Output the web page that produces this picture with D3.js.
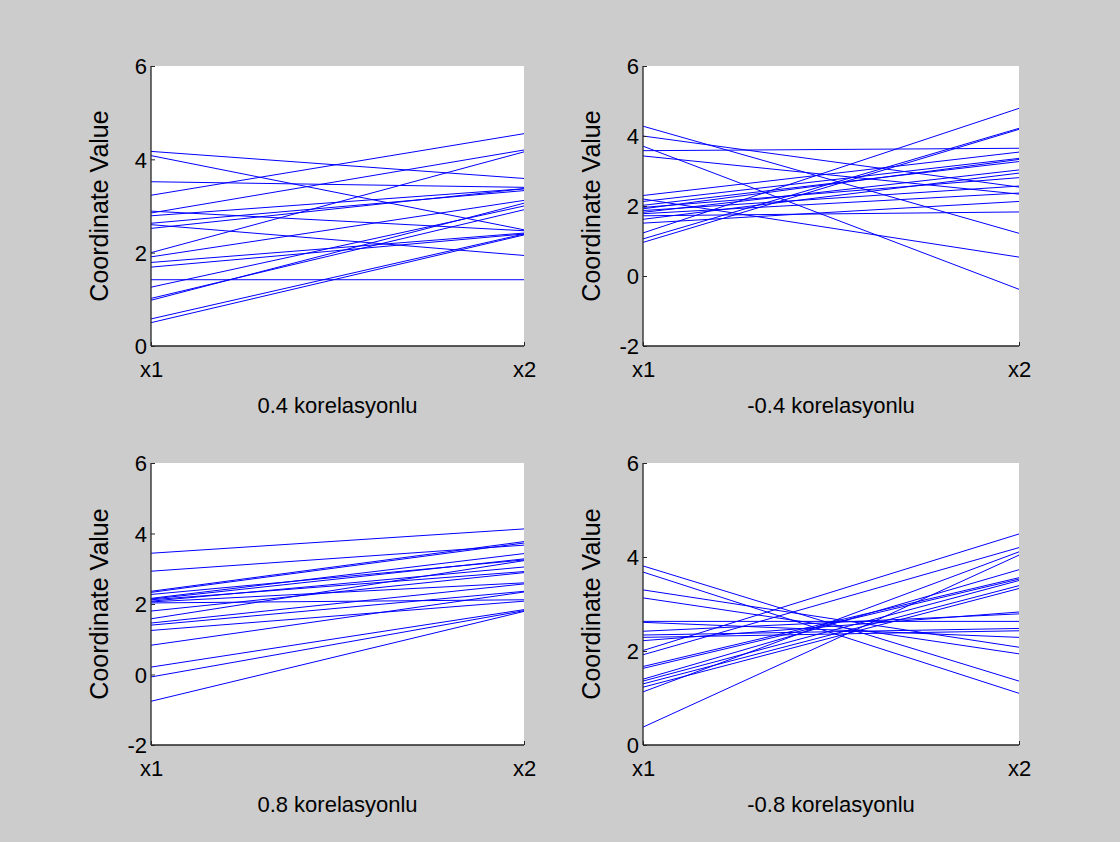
<!DOCTYPE html>
<html>
<head>
<meta charset="utf-8">
<script src="https://d3js.org/d3.v7.min.js"></script>
<style>
  html, body { margin: 0; padding: 0; background: #cccccc; }
  svg { display: block; }
  text { font-family: "Liberation Sans", Arial, Helvetica, sans-serif; fill: #000; }
</style>
</head>
<body>
<svg id="fig" width="1120" height="842"></svg>
<script>
// Coordinate names shared by every panel
const coords = ["x1", "x2"];

// Panel titles
const titles = ["0.4 korelasyonlu", "-0.4 korelasyonlu", "0.8 korelasyonlu", "-0.8 korelasyonlu"];

// Y axis ranges and tick values per panel
const yDomains = [[0, 6], [-2, 6], [-2, 6], [0, 6]];
const yTicks = [[0, 2, 4, 6], [-2, 0, 2, 4, 6], [-2, 0, 2, 4, 6], [0, 2, 4, 6]];

// Observations: value at x1 and at x2 for each sample
const r04_x1 = [4.17, 4.08, 3.52, 3.23, 2.89, 2.85, 2.79, 2.63, 2.60, 2.52, 2.00, 1.91, 1.79, 1.69, 1.42, 1.26, 1.02, 0.98, 0.58, 0.50];
const r04_x2 = [3.59, 2.49, 3.40, 4.55, 2.47, 4.20, 3.37, 3.33, 1.94, 3.37, 4.16, 3.12, 2.42, 2.40, 1.42, 3.00, 2.92, 3.06, 2.40, 2.38];

const rm04_x1 = [4.28, 4.00, 3.71, 3.58, 3.43, 2.30, 2.20, 2.13, 2.02, 1.96, 1.92, 1.87, 1.82, 1.78, 1.72, 1.62, 1.51, 1.23, 1.06, 0.96];
const rm04_x2 = [1.22, 2.54, -0.38, 3.65, 2.34, 3.54, 0.54, 3.36, 3.27, 2.81, 3.33, 2.57, 3.03, 2.37, 1.83, 2.94, 2.13, 4.79, 4.22, 4.19];

const r08_x1 = [3.44, 2.93, 2.36, 2.33, 2.27, 2.16, 2.14, 2.12, 2.08, 2.06, 2.03, 1.80, 1.58, 1.46, 1.40, 1.25, 0.83, 0.21, -0.07, -0.76];
const r08_x2 = [4.13, 3.67, 3.77, 3.73, 3.25, 3.43, 3.28, 2.92, 3.05, 2.60, 2.12, 2.89, 3.23, 2.57, 2.36, 2.08, 2.34, 1.84, 1.81, 1.79];

const rm08_x1 = [3.81, 3.68, 3.30, 3.13, 2.63, 2.61, 2.42, 2.34, 2.29, 2.22, 2.01, 1.92, 1.67, 1.63, 1.40, 1.36, 1.30, 1.23, 1.13, 0.38];
const rm08_x2 = [1.36, 1.10, 2.08, 1.94, 2.63, 2.29, 2.79, 2.48, 2.43, 2.83, 4.49, 4.20, 3.56, 3.53, 3.73, 3.50, 3.39, 3.33, 4.11, 4.04];

const seriesX1 = [r04_x1, rm04_x1, r08_x1, rm08_x1];
const seriesX2 = [r04_x2, rm04_x2, r08_x2, rm08_x2];

// Axes rectangles in pixels [left, top, right, bottom]
const boxes = [
  [151, 66, 524, 346],
  [643, 66, 1019, 346],
  [151, 463, 524, 745],
  [643, 463, 1019, 745]
];

const svg = d3.select("#fig");
svg.append("rect").attr("width", 1120).attr("height", 842).attr("fill", "#cccccc");

const fontSize = 22;
const yLabelSize = 25;
const fontFamily = "'Liberation Sans', Arial, sans-serif";

boxes.forEach((b, i) => {
  const [l, t, r, bt] = b;
  const g = svg.append("g");

  const x = d3.scalePoint().domain(coords).range([l, r]);
  const y = d3.scaleLinear().domain(yDomains[i]).range([bt, t]);

  // white plotting area
  g.append("rect")
    .attr("x", l).attr("y", t)
    .attr("width", r - l).attr("height", bt - t)
    .attr("fill", "#ffffff");

  // one line per observation
  const rows = seriesX1[i].map((v, k) => [v, seriesX2[i][k]]);
  const line = d3.line().x((d, k) => x(coords[k])).y(d => y(d));
  g.append("g").selectAll("path")
    .data(rows)
    .join("path")
    .attr("d", line)
    .attr("fill", "none")
    .attr("stroke", "#0000ff")
    .attr("stroke-width", 1);

  // y axis with inward ticks
  const yAxis = d3.axisRight(y).tickValues(yTicks[i]).tickSize(4).tickFormat(d => String(d));
  const ya = g.append("g").attr("transform", `translate(${l},0)`).call(yAxis);
  ya.select(".domain").attr("stroke", "#262626").attr("stroke-width", 1.3).attr("d", `M0,${t}V${bt}`);
  ya.selectAll(".tick line").attr("stroke", "#262626");
  ya.selectAll(".tick text")
    .attr("x", -4).attr("dy", "0.35em")
    .attr("text-anchor", "end")
    .style("font-size", fontSize + "px")
    .style("font-family", fontFamily);

  // x axis with inward ticks
  const xAxis = d3.axisTop(x).tickSize(4);
  const xa = g.append("g").attr("transform", `translate(0,${bt})`).call(xAxis);
  xa.select(".domain").attr("stroke", "#262626").attr("stroke-width", 1.3).attr("d", `M${l},0H${r}`);
  xa.selectAll(".tick line").attr("stroke", "#262626");
  xa.selectAll(".tick text")
    .attr("y", 31).attr("dy", "0")
    .attr("text-anchor", "middle")
    .style("font-size", fontSize + "px")
    .style("font-family", fontFamily);

  // axis titles
  g.append("text")
    .attr("x", (l + r) / 2).attr("y", bt + 67)
    .attr("text-anchor", "middle")
    .style("font-size", fontSize + "px")
    .text(titles[i]);

  g.append("text")
    .attr("transform", `translate(${l - 43},${(t + bt) / 2}) rotate(-90)`)
    .attr("text-anchor", "middle")
    .style("font-size", yLabelSize + "px")
    .text("Coordinate Value");
});
</script>
</body>
</html>
